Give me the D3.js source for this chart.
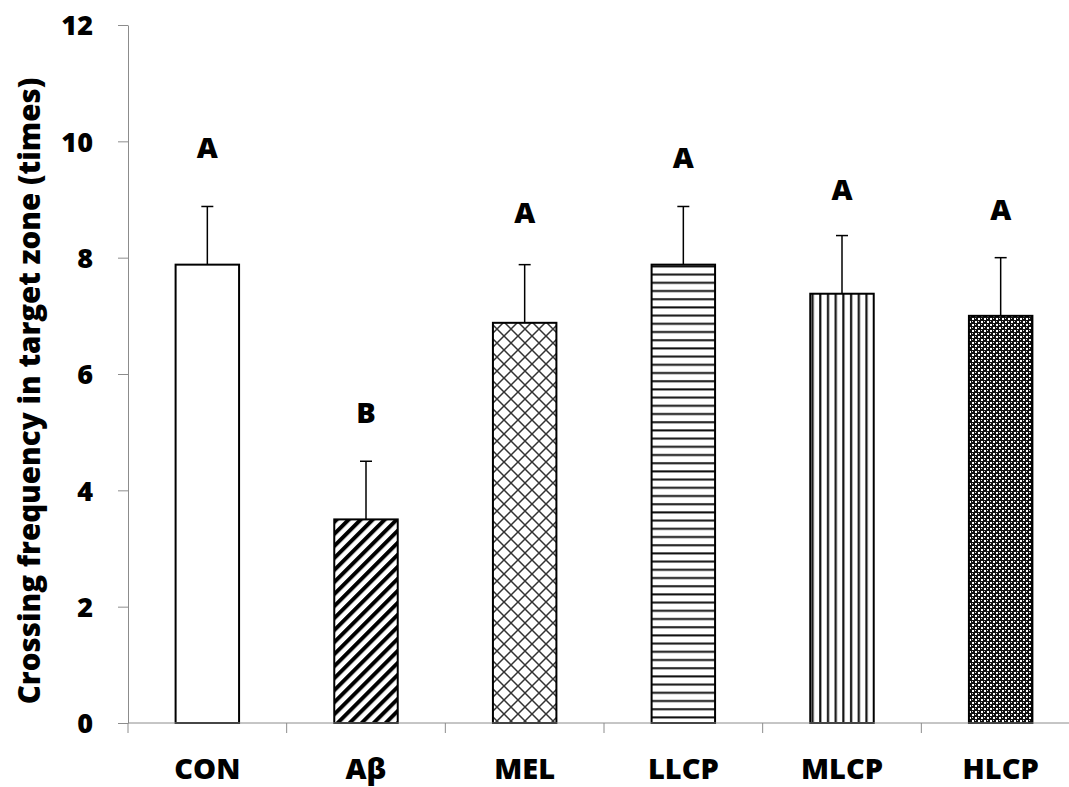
<!DOCTYPE html>
<html>
<head>
<meta charset="utf-8">
<script src="https://cdn.jsdelivr.net/npm/d3@7"></script>
<style>
  body { margin: 0; background: #fff; }
  svg text { font-family: 'Open Sans', Lato, sans-serif; font-weight: 800; fill: #000; }
</style>
</head>
<body>
<div id="chart"></div>
<script>
'use strict'

// data
const groups = ['CON', 'Aβ', 'MEL', 'LLCP', 'MLCP', 'HLCP']
const means = [7.88, 3.5, 6.88, 7.88, 7.38, 7.0]
const errors = [1.0, 1.0, 1.0, 1.0, 1.0, 1.0]
const letters = ['A', 'B', 'A', 'A', 'A', 'A']
const letterAt = [9.72, 5.15, 8.6, 9.55, 9.0, 8.65]
const yTicks = [0, 2, 4, 6, 8, 10, 12]
const fills = ['none', 'diag', 'lattice', 'hlines', 'vlines', 'checker']

const width = 1069
const height = 787
const margin = { top: 25, right: -11, bottom: 64, left: 128 }

const svg = d3.select('#chart')
  .append('svg')
  .attr('width', width)
  .attr('height', height)

// fill patterns
const defs = svg.append('defs')

const diag = defs.append('pattern')
  .attr('id', 'diag')
  .attr('patternUnits', 'userSpaceOnUse')
  .attr('width', 8.5)
  .attr('height', 8.5)
  .attr('patternTransform', 'rotate(45)')
diag.append('rect').attr('width', 8.5).attr('height', 8.5).attr('fill', '#fff')
diag.append('rect').attr('width', 4).attr('height', 8.5).attr('fill', '#000')

const lattice = defs.append('pattern')
  .attr('id', 'lattice')
  .attr('patternUnits', 'userSpaceOnUse')
  .attr('width', 14)
  .attr('height', 14)
lattice.append('rect').attr('width', 14).attr('height', 14).attr('fill', '#fff')
lattice.append('path')
  .attr('d', 'M0,0L14,14M14,0L0,14')
  .attr('stroke', '#333')
  .attr('stroke-width', 1.5)

const hlines = defs.append('pattern')
  .attr('id', 'hlines')
  .attr('patternUnits', 'userSpaceOnUse')
  .attr('width', 8)
  .attr('height', 8.2)
hlines.append('rect').attr('width', 8).attr('height', 8.2).attr('fill', '#fff')
hlines.append('rect').attr('y', 3).attr('width', 8).attr('height', 2).attr('fill', '#111')

const vlines = defs.append('pattern')
  .attr('id', 'vlines')
  .attr('patternUnits', 'userSpaceOnUse')
  .attr('width', 7.7)
  .attr('height', 8)
vlines.append('rect').attr('width', 7.7).attr('height', 8).attr('fill', '#fff')
vlines.append('rect').attr('x', 3).attr('width', 2.2).attr('height', 8).attr('fill', '#111')

const checker = defs.append('pattern')
  .attr('id', 'checker')
  .attr('patternUnits', 'userSpaceOnUse')
  .attr('width', 6)
  .attr('height', 6)
checker.append('rect').attr('width', 6).attr('height', 6).attr('fill', '#111')
checker.append('rect').attr('x', 0).attr('y', 0).attr('width', 2).attr('height', 2).attr('fill', '#fff')
checker.append('rect').attr('x', 3).attr('y', 3).attr('width', 2).attr('height', 2).attr('fill', '#fff')
checker.append('rect').attr('x', 3).attr('y', 0).attr('width', 1).attr('height', 1).attr('fill', '#ddd')
checker.append('rect').attr('x', 0).attr('y', 3).attr('width', 1).attr('height', 1).attr('fill', '#ddd')

// scales
const x = d3.scaleBand()
  .domain(groups)
  .range([margin.left, width - margin.right])
  .paddingInner(0.6)
  .paddingOuter(0.3)

const y = d3.scaleLinear()
  .domain([0, 12])
  .range([height - margin.bottom, margin.top])

const rows = groups.map((g, i) => ({
  group: g, mean: means[i], err: errors[i], letter: letters[i], at: letterAt[i], fill: fills[i]
}))

// y axis
const yAxis = svg.append('g')
  .attr('class', 'yaxis')
  .attr('transform', `translate(${margin.left},0)`)
  .call(d3.axisLeft(y).tickValues(yTicks).tickSize(10).tickSizeOuter(0).tickPadding(25))
yAxis.selectAll('line, path').attr('stroke', '#8c8c8c')
yAxis.selectAll('text')
  .style('font-size', '27px')
  .attr('dy', '0.36em')

// bars
svg.append('g')
  .attr('class', 'bars')
  .selectAll('rect')
  .data(rows)
  .enter()
  .append('rect')
  .attr('x', d => x(d.group))
  .attr('y', d => y(d.mean))
  .attr('width', x.bandwidth())
  .attr('height', d => y(0) - y(d.mean))
  .attr('fill', d => d.fill === 'none' ? '#fff' : `url(#${d.fill})`)
  .attr('stroke', '#000')
  .attr('stroke-width', 2)

// error bars (upper only)
const err = svg.append('g').attr('class', 'errorbars')
  .selectAll('g')
  .data(rows)
  .enter()
  .append('g')
err.append('line')
  .attr('x1', d => x(d.group) + x.bandwidth() / 2)
  .attr('x2', d => x(d.group) + x.bandwidth() / 2)
  .attr('y1', d => y(d.mean))
  .attr('y2', d => y(d.mean + d.err))
  .attr('stroke', '#000')
  .attr('stroke-width', 1.5)
err.append('line')
  .attr('x1', d => x(d.group) + x.bandwidth() / 2 - 6)
  .attr('x2', d => x(d.group) + x.bandwidth() / 2 + 6)
  .attr('y1', d => y(d.mean + d.err))
  .attr('y2', d => y(d.mean + d.err))
  .attr('stroke', '#000')
  .attr('stroke-width', 1.5)

// x axis drawn over bar bottoms
const xAxis = svg.append('g')
  .attr('class', 'xaxis')
  .attr('transform', `translate(0,${y(0)})`)
xAxis.append('line')
  .attr('x1', margin.left)
  .attr('x2', width)
  .attr('stroke', '#8c8c8c')
const step = x.step()
xAxis.selectAll('line.tick')
  .data(d3.range(groups.length + 1))
  .enter()
  .append('line')
  .attr('class', 'tick')
  .attr('x1', i => margin.left + i * step)
  .attr('x2', i => margin.left + i * step)
  .attr('y1', 0)
  .attr('y2', 10)
  .attr('stroke', '#8c8c8c')
xAxis.selectAll('text')
  .data(groups)
  .enter()
  .append('text')
  .attr('x', d => x(d) + x.bandwidth() / 2)
  .attr('y', 56)
  .attr('text-anchor', 'middle')
  .style('font-size', '29px')
  .text(d => d)

// significance letters
svg.append('g')
  .attr('class', 'letters')
  .selectAll('text')
  .data(rows)
  .enter()
  .append('text')
  .attr('x', d => x(d.group) + x.bandwidth() / 2)
  .attr('y', d => y(d.at))
  .attr('text-anchor', 'middle')
  .style('font-size', '29px')
  .text(d => d.letter)

// y label
svg.append('text')
  .attr('transform', 'translate(40,391) rotate(-90)')
  .attr('text-anchor', 'middle')
  .style('font-size', '29.5px')
  .text('Crossing frequency in target zone (times)')
</script>
</body>
</html>
